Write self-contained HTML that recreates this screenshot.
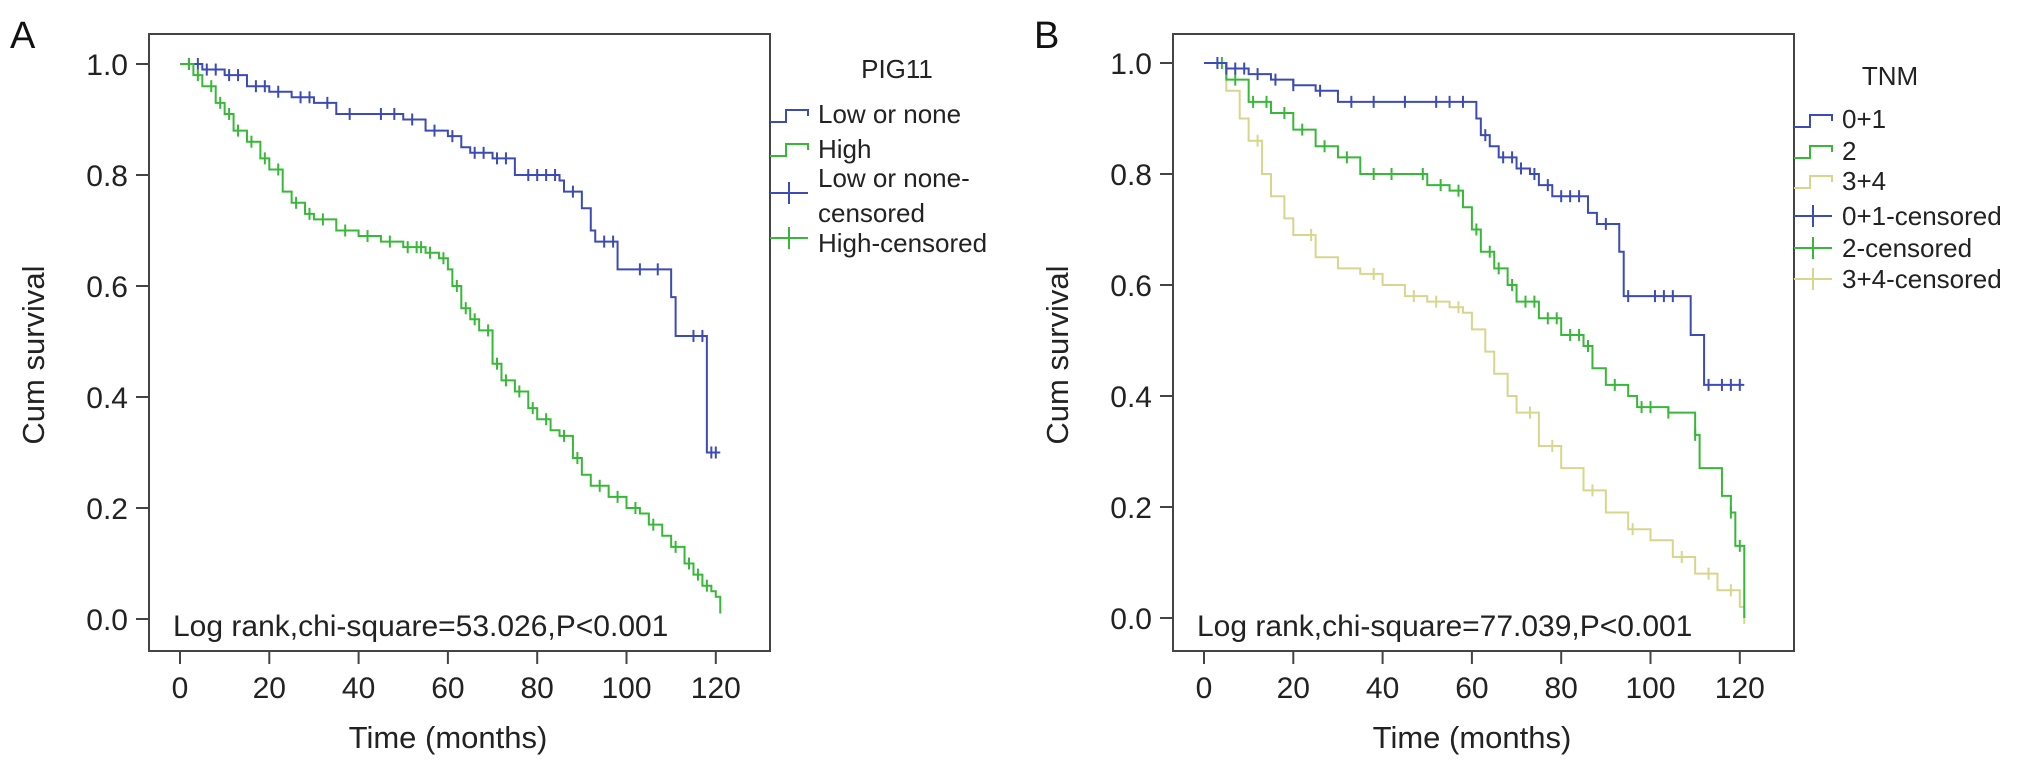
<!DOCTYPE html>
<html><head><meta charset="utf-8"><style>
html,body{margin:0;padding:0;background:#fff;}
svg{display:block;font-family:"Liberation Sans",Arial,sans-serif;}
</style></head><body>
<svg id="chart" width="2031" height="767" viewBox="0 0 2031 767">
<g id="root"></g>
</svg>
<script>
// ---- Panel A data (PIG11) ----
const aLowTimes = [0,5,10,15,20,25,30,35,50,55,60,63,65,70,75,85,86,90,92,93,98,110,111,118,121];
const aLowSurv  = [1.0,0.99,0.98,0.96,0.95,0.94,0.93,0.91,0.90,0.88,0.87,0.85,0.84,0.83,0.80,0.79,0.77,0.74,0.70,0.68,0.63,0.58,0.51,0.30,0.30];
const aLowCens  = [2,4,6,8,11,13,17,19,22,27,29,33,38,45,48,52,57,61,66,68,71,73,78,80,82,84,88,95,97,103,107,115,117,119,120];
const aHighTimes = [0,3,5,8,10,12,15,18,20,23,25,28,30,35,40,45,50,55,58,60,61,63,65,67,70,72,75,78,80,83,85,88,90,92,96,100,103,105,108,110,113,115,117,119,120,121];
const aHighSurv  = [1.0,0.98,0.96,0.93,0.91,0.88,0.86,0.83,0.81,0.77,0.75,0.73,0.72,0.70,0.69,0.68,0.67,0.66,0.65,0.63,0.60,0.56,0.54,0.52,0.46,0.43,0.41,0.38,0.36,0.34,0.33,0.29,0.26,0.24,0.22,0.20,0.19,0.17,0.15,0.13,0.10,0.08,0.06,0.05,0.04,0.01];
const aHighCens = [2,4,7,9,11,13,16,19,22,26,29,32,37,42,47,51,53,54,56,59,62,64,66,69,71,73,76,79,82,86,89,94,98,102,106,111,114,116,118];
// ---- Panel B data (TNM) ----
const b01Times = [0,5,10,15,20,25,30,60,61,62,64,66,70,73,75,78,86,88,93,94,109,112,121];
const b01Surv  = [1.0,0.99,0.98,0.97,0.96,0.95,0.93,0.93,0.90,0.87,0.85,0.83,0.81,0.80,0.78,0.76,0.73,0.71,0.66,0.58,0.51,0.42,0.42];
const b01Cens  = [3,5,7,9,12,16,20,26,33,38,45,52,55,58,63,67,69,71,74,77,80,82,84,90,95,101,103,105,113,116,118,120];
const b2Times = [0,5,10,15,20,25,30,35,45,50,55,58,60,62,65,68,70,75,80,85,87,90,95,97,104,110,111,116,118,119,121];
const b2Surv  = [1.0,0.97,0.93,0.91,0.88,0.85,0.83,0.80,0.80,0.78,0.77,0.74,0.70,0.66,0.63,0.60,0.57,0.54,0.51,0.49,0.45,0.42,0.40,0.38,0.37,0.33,0.27,0.22,0.19,0.13,0.0];
const b2Cens  = [4,7,11,14,18,22,27,32,38,42,49,53,57,61,64,66,69,72,74,77,79,82,84,86,92,98,100,104,110,118,120];
const b34Times = [0,5,8,10,13,15,18,20,25,30,35,40,45,50,55,58,60,63,65,68,70,75,80,85,90,95,100,105,110,115,120,121];
const b34Surv  = [1.0,0.95,0.90,0.86,0.80,0.76,0.72,0.69,0.65,0.63,0.62,0.60,0.58,0.57,0.56,0.55,0.52,0.48,0.44,0.40,0.37,0.31,0.27,0.23,0.19,0.16,0.14,0.11,0.08,0.05,0.02,0.0];
const b34Cens  = [12,24,38,47,52,57,73,78,87,96,107,113,118,121];
const yTickLabels = ["0.0","0.2","0.4","0.6","0.8","1.0"];
const yTickValues = [0,0.2,0.4,0.6,0.8,1.0];
const xTickValues = [0,20,40,60,80,100,120];

const NS="http://www.w3.org/2000/svg";
const root=document.getElementById('root');
const BLUE="#3c4bb5", GREEN="#38b838", YELLOW="#d6d68c";
function el(tag,attrs,parent){const e=document.createElementNS(NS,tag);for(const k in attrs)e.setAttribute(k,attrs[k]);(parent||root).appendChild(e);return e;}

function panel(ox,oy,letter,stat,legendTitle,legendItems,series){
  const g=el('g',{});
  
  
  const X=t=>180+ox+t*4.465;
  const Y=v=>64+oy+(1-v)*555;
  const L=el('text',{x:10+ox,y:48,'font-size':38,fill:'#111'},g);L.textContent=letter;
  
  
  const box=el('rect',{x:149+ox,y:34,width:621-0,height:617,fill:'none',stroke:'#444','stroke-width':2},g);
  
  
  // y ticks
  yTickValues.forEach((v,i)=>{
    el('line',{x1:136+ox,x2:149+ox,y1:Y(v),y2:Y(v),stroke:'#444','stroke-width':2},g);
    const t=el('text',{x:128+ox,y:Y(v)+11,'font-size':30,'text-anchor':'end',fill:'#222'},g);t.textContent=yTickLabels[i];
    
    
  });
  xTickValues.forEach(v=>{
    el('line',{x1:X(v),x2:X(v),y1:651,y2:664,stroke:'#444','stroke-width':2},g);
    const t=el('text',{x:X(v),y:698,'font-size':30,'text-anchor':'middle',fill:'#222'},g);t.textContent=String(v);
    
    
  });
  const xt=el('text',{x:448+ox,y:748,'font-size':31,'text-anchor':'middle',fill:'#222'},g);xt.textContent='Time (months)';
  
  
  const yt=el('text',{x:0,y:0,'font-size':31,'text-anchor':'middle',fill:'#222',transform:`translate(${44+ox},${355}) rotate(-90)`},g);yt.textContent='Cum survival';
  
  
  // series
  series.forEach(s=>{
    let d=`M${X(s.t[0])},${Y(s.v[0])}`;
    for(let i=1;i<s.t.length;i++){d+=` H${X(s.t[i])} V${Y(s.v[i])}`;}
    const p=el('path',{d:d,fill:'none',stroke:s.c,'stroke-width':2},g);
    
    
    s.cens.forEach(ct=>{
      let v=s.v[0];for(let i=0;i<s.t.length;i++){if(s.t[i]<=ct)v=s.v[i];}
      const m=el('line',{x1:X(ct),x2:X(ct),y1:Y(v)-6,y2:Y(v)+6,stroke:s.c,'stroke-width':2},g);
      
      
    });
  });
  const st=el('text',{x:173+ox,y:636,'font-size':30,fill:'#222'},g);st.textContent=stat;
  
  
  // legend
  const lg=el('g',{},g);
  
  
  const lt=el('text',{x:legendTitle.x,y:legendTitle.y,'font-size':26,'text-anchor':'middle',fill:'#222'},lg);lt.textContent=legendTitle.text;
  
  
  legendItems.forEach(it=>{
    const x0=770+ox;
    if(it.kind==='step'){
      el('path',{d:`M${x0},${it.sy+6} H${x0+16} V${it.sy-6} H${x0+38} V${it.sy}`,fill:'none',stroke:it.c,'stroke-width':2},lg);
    } else {
      el('line',{x1:x0,x2:x0+38,y1:it.sy,y2:it.sy,stroke:it.c,'stroke-width':2},lg);
      el('line',{x1:x0+19,x2:x0+19,y1:it.sy-11,y2:it.sy+11,stroke:it.c,'stroke-width':2},lg);
    }
    it.lines.forEach((ln,j)=>{
      const t=el('text',{x:818+ox,y:it.by+j*35,'font-size':26,fill:'#222'},lg);t.textContent=ln;
      
      
    });
  });
}

panel(0,0,'A','Log rank,chi-square=53.026,P<0.001',{text:'PIG11',x:897,y:78},[
  {kind:'step',c:BLUE,sy:116,by:123,lines:['Low or none']},
  {kind:'step',c:GREEN,sy:150,by:158,lines:['High']},
  {kind:'plus',c:BLUE,sy:193,by:187,lines:['Low or none-','censored']},
  {kind:'plus',c:GREEN,sy:238,by:252,lines:['High-censored']}
],[
  {name:'low-or-none',c:BLUE,t:aLowTimes,v:aLowSurv,cens:aLowCens},
  {name:'high',c:GREEN,t:aHighTimes,v:aHighSurv,cens:aHighCens}
]);
panel(1024,-1,'B','Log rank,chi-square=77.039,P<0.001',{text:'TNM',x:1890,y:85},[
  {kind:'step',c:BLUE,sy:121,by:128,lines:['0+1']},
  {kind:'step',c:GREEN,sy:152,by:160,lines:['2']},
  {kind:'step',c:YELLOW,sy:182,by:190,lines:['3+4']},
  {kind:'plus',c:BLUE,sy:216,by:225,lines:['0+1-censored']},
  {kind:'plus',c:GREEN,sy:248,by:257,lines:['2-censored']},
  {kind:'plus',c:YELLOW,sy:279,by:288,lines:['3+4-censored']}
],[
  {name:'tnm-3-4',c:YELLOW,t:b34Times,v:b34Surv,cens:b34Cens},
  {name:'tnm-2',c:GREEN,t:b2Times,v:b2Surv,cens:b2Cens},
  {name:'tnm-0-1',c:BLUE,t:b01Times,v:b01Surv,cens:b01Cens}
]);
</script>
</body></html>
